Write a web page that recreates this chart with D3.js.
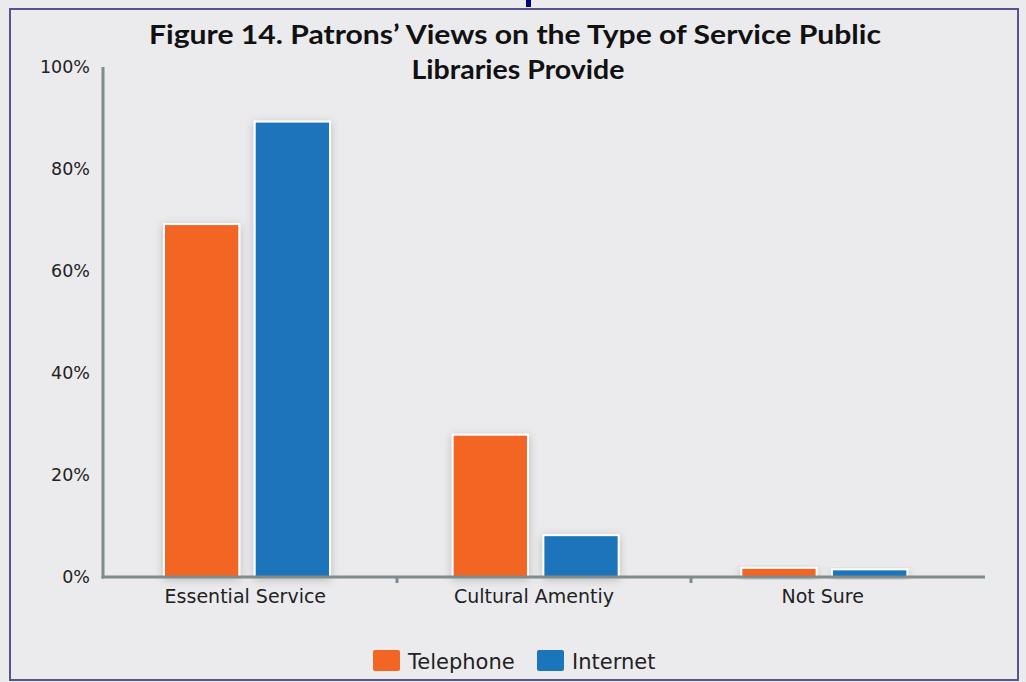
<!DOCTYPE html>
<html>
<head>
<meta charset="utf-8">
<script src="https://cdn.jsdelivr.net/npm/d3@7"></script>
<style>
  body { margin: 0; background: #ebebee; }
  svg { display: block; }
</style>
</head>
<body>
<script>
// data
var categories = ["Essential Service", "Cultural Amentiy", "Not Sure"];
var seriesNames = ["Telephone", "Internet"];
var telephone = [69.2, 27.9, 1.8];
var internet = [89.3, 8.2, 1.5];
var yTicks = [0, 20, 40, 60, 80, 100];
var colors = ["#f26522", "#1b75bb"];

var width = 1026, height = 682;
var margin = { top: 67, left: 103, right: 41, bottom: 105 };
var chartWidth = width - margin.left - margin.right;
var chartHeight = height - margin.top - margin.bottom;
var labelFont = "'DejaVu Sans', sans-serif";

var svg = d3.select("body").append("svg")
  .attr("width", width)
  .attr("height", height);

var defs = svg.append("defs");
var shadow = defs.append("filter").attr("id", "shadow")
  .attr("x", "-30%").attr("y", "-30%").attr("width", "160%").attr("height", "160%");
shadow.append("feDropShadow")
  .attr("dx", 0).attr("dy", 2).attr("stdDeviation", 5)
  .attr("flood-color", "#000").attr("flood-opacity", 0.2);

svg.append("rect")
  .attr("width", width).attr("height", height).attr("fill", "#ebebee");

// frame
svg.append("rect")
  .attr("x", 10).attr("y", 9).attr("width", 1008).attr("height", 671)
  .attr("fill", "none").attr("stroke", "#55558a").attr("stroke-width", 2);
svg.append("rect")
  .attr("x", 526).attr("y", 0).attr("width", 5).attr("height", 7)
  .attr("fill", "#00007f");

// title
var title = svg.append("text")
  .attr("text-anchor", "middle")
  .attr("font-family", "Lato, 'DejaVu Sans', sans-serif")
  .attr("font-weight", "bold")
  .attr("font-size", 27)
  .attr("fill", "#111");
title.append("tspan").attr("x", 515).attr("y", 44)
  .attr("textLength", 732).attr("lengthAdjust", "spacingAndGlyphs")
  .text("Figure 14. Patrons’ Views on the Type of Service Public");
title.append("tspan").attr("x", 518).attr("y", 79)
  .attr("textLength", 213).attr("lengthAdjust", "spacingAndGlyphs")
  .text("Libraries Provide");

var chartGroup = svg.append("g")
  .attr("transform", `translate(${margin.left}, ${margin.top})`);

// bars sit on a slightly narrower band than the axis ticks
var x0 = d3.scaleBand()
  .domain(categories)
  .range([0, 866]);

var xAxisScale = d3.scaleBand()
  .domain(categories)
  .range([0, chartWidth]);

var x1 = d3.scaleBand()
  .domain(seriesNames)
  .range([61, 227])
  .paddingInner(0.17);

var y = d3.scaleLinear()
  .domain([0, 100])
  .range([chartHeight, 0]);

// y tick labels
var leftAxis = d3.axisLeft(y).tickValues(yTicks).tickFormat(d => d + "%").tickSize(0).tickPadding(13);
var gy = chartGroup.append("g").call(leftAxis);
gy.select(".domain").remove();
gy.selectAll("text")
  .attr("font-family", labelFont)
  .attr("font-size", 17.5)
  .attr("fill", "#222");

var rows = categories.map((c, i) => ({ cat: c, values: [telephone[i], internet[i]] }));

var groups = chartGroup.selectAll(".cat")
  .data(rows)
  .enter()
  .append("g")
  .attr("class", "cat")
  .attr("transform", d => `translate(${x0(d.cat)}, 0)`);

groups.selectAll("rect")
  .data(d => d.values.map((v, j) => ({ name: seriesNames[j], value: v, idx: j })))
  .enter()
  .append("rect")
  .attr("x", d => x1(d.name))
  .attr("y", d => y(d.value))
  .attr("width", x1.bandwidth())
  .attr("height", d => chartHeight - y(d.value))
  .attr("fill", d => colors[d.idx])
  .attr("stroke", "#fff")
  .attr("stroke-width", 2)
  .attr("filter", "url(#shadow)");

// axes lines
chartGroup.append("line")
  .attr("x1", 0).attr("x2", 0).attr("y1", 0).attr("y2", chartHeight + 1.5)
  .attr("stroke", "#7f8c8d").attr("stroke-width", 3);
chartGroup.append("line")
  .attr("x1", -1.5).attr("x2", chartWidth).attr("y1", chartHeight).attr("y2", chartHeight)
  .attr("stroke", "#7f8c8d").attr("stroke-width", 3);

// small ticks between categories
var boundaries = categories.slice(1).map(c => xAxisScale(c));
chartGroup.selectAll(".sep")
  .data(boundaries)
  .enter()
  .append("line")
  .attr("x1", d => d).attr("x2", d => d)
  .attr("y1", chartHeight).attr("y2", chartHeight + 6)
  .attr("stroke", "#7f8c8d").attr("stroke-width", 3);

var bottomAxis = d3.axisBottom(x0).tickSize(0).tickPadding(13);
var gx = chartGroup.append("g")
  .attr("transform", `translate(-2, ${chartHeight})`)
  .call(bottomAxis);
gx.select(".domain").remove();
gx.selectAll("text")
  .attr("font-family", labelFont)
  .attr("font-size", 19)
  .attr("fill", "#222");

// legend
var legend = svg.append("g").attr("transform", "translate(373, 650)");
var legendX = [0, 164];
seriesNames.forEach(function(name, i) {
  var item = legend.append("g").attr("transform", `translate(${legendX[i]}, 0)`);
  item.append("rect")
    .attr("width", 27).attr("height", 21).attr("rx", 2)
    .attr("fill", colors[i]);
  item.append("text")
    .attr("x", 35).attr("y", 19)
    .attr("font-family", labelFont)
    .attr("font-size", 21)
    .attr("fill", "#222")
    .text(name);
});
</script>
</body>
</html>
